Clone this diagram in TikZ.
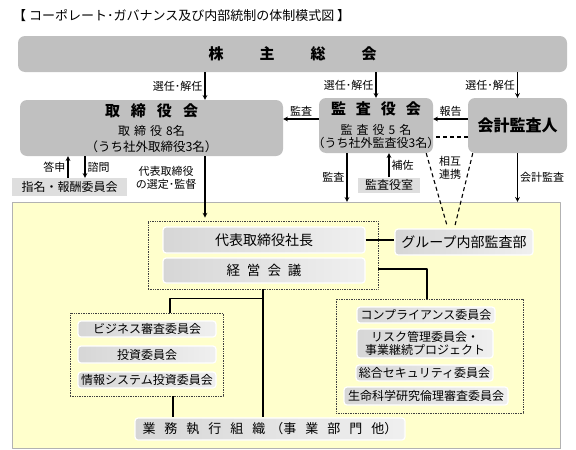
\documentclass[tikz,border=0pt]{standalone}
\usepackage{fontspec}
\setmainfont{Noto Sans CJK JP}
\usetikzlibrary{shadows}
\definecolor{boxgray}{RGB}{192,192,192}
\definecolor{paleGray}{RGB}{222,222,222}
\definecolor{areaYellow}{RGB}{255,255,204}
\tikzset{
  bigbox/.style={fill=boxgray, rounded corners=7pt, inner sep=0pt, align=center},
  smallbox/.style={fill=paleGray, inner sep=0pt, font=\fontsize{12}{14}\selectfont},
  innerbox/.style={draw=white, line width=1.2pt, rounded corners=3pt, left color=gray!32, right color=gray!12,
    inner sep=0pt, align=center, font=\fontsize{12}{14}\selectfont},
  dotbox/.style={draw=black!75, line width=0.8pt, dash pattern=on 0.7pt off 1pt, inner sep=0pt},
  lbl/.style={font=\fontsize{11}{13}\selectfont, inner sep=2pt, align=center},
  conn/.style={line width=1.1pt},
}
\begin{document}
\begin{tikzpicture}[x=1pt, y=-1pt, >=stealth, line join=round]
  \useasboundingbox (0,0) rectangle (576,450);
  % title
  \node[anchor=west, inner sep=0pt, font=\fontsize{13}{15}\selectfont] (title) at (13,16)
    {【 コーポレート･ガバナンス及び内部統制の体制模式図 】};
  % upper part
  \node[bigbox, minimum width=549pt, minimum height=36pt, font=\fontsize{15}{17}\bfseries] (kabunushi) at (292.5,54)
    {株\hspace{36pt}主\hspace{36pt}総\hspace{36pt}会};
  \node[bigbox, minimum width=263pt, minimum height=56pt, font=\fontsize{12.5}{15}\selectfont] (torishimari) at (151.5,128)
    {{\fontsize{15}{17}\bfseries 取\hspace{11pt}締\hspace{11pt}役\hspace{11pt}会}\\[4.5pt]
     {\fontsize{12}{15}\selectfont 取\hspace{4pt}締\hspace{4pt}役\hspace{4pt}8名}\\[1pt]
     （うち社外取締役3名）};
  \node[bigbox, minimum width=114pt, minimum height=55pt, font=\fontsize{12}{13}\selectfont] (kansayaku) at (376,125.5)
    {{\fontsize{15}{17}\bfseries 監\hspace{10pt}査\hspace{10pt}役\hspace{10pt}会}\\[7pt]
     監\hspace{4pt}査\hspace{4pt}役\hspace{4pt}5\hspace{4pt}名\\
     \makebox[110pt]{（うち社外監査役3名）}};
  \node[bigbox, minimum width=99pt, minimum height=55pt, font=\fontsize{16}{18}\bfseries] (kaikei) at (517.5,125.5)
    {会計監査人};
  \node[smallbox, minimum width=115pt, minimum height=18pt] (shimei) at (69.5,187) {指名・報酬委員会};
  \node[smallbox, minimum width=62pt, minimum height=15pt] (kansashitsu) at (389,185) {監査役室};
  % yellow area
  \node[fill=areaYellow, draw=gray!60, drop shadow={shadow xshift=1.2pt, shadow yshift=-1.2pt, fill=gray!70, opacity=1},
    minimum width=548pt, minimum height=246pt, inner sep=0pt] (area) at (286,325) {};
  \node[dotbox, minimum width=230pt, minimum height=68pt] (topgrp) at (263,255) {};
  \node[dotbox, minimum width=187pt, minimum height=114pt] (rightgrp) at (429.5,356) {};
  \node[dotbox, minimum width=153pt, minimum height=83pt] (leftgrp) at (146.5,354.5) {};
  \node[innerbox, minimum width=202pt, minimum height=26pt, font=\fontsize{14}{16}\selectfont] (shacho) at (264,240) {代表取締役社長};
  \node[innerbox, minimum width=202pt, minimum height=25pt, font=\fontsize{13.5}{15}\selectfont] (keiei) at (264,270.5)
    {経\hspace{7pt}営\hspace{7pt}会\hspace{7pt}議};
  \node[innerbox, minimum width=138pt, minimum height=26pt, font=\fontsize{14}{16}\selectfont] (group) at (464,242) {グループ内部監査部};
  \node[innerbox, minimum width=138pt, minimum height=16pt] (compl) at (426,315) {コンプライアンス委員会};
  \node[innerbox, minimum width=136pt, minimum height=29pt, font=\fontsize{12}{13}\selectfont] (risk) at (425,343.5)
    {リスク管理委員会・\\事業継続プロジェクト};
  \node[innerbox, minimum width=137pt, minimum height=16pt] (security) at (424.5,373) {総合セキュリティ委員会};
  \node[innerbox, minimum width=164pt, minimum height=18pt] (seimei) at (426,396) {生命科学研究倫理審査委員会};
  \node[innerbox, minimum width=138pt, minimum height=16pt] (biz) at (147,329) {ビジネス審査委員会};
  \node[innerbox, minimum width=138pt, minimum height=17pt] (toushi) at (147,354.5) {投資委員会};
  \node[innerbox, minimum width=138pt, minimum height=16pt] (joho) at (147,380) {情報システム投資委員会};
  \node[innerbox, minimum width=270pt, minimum height=22pt, font=\fontsize{13}{15}\selectfont] (gyomu) at (270,429)
    {業\hspace{9pt}務\hspace{9pt}執\hspace{9pt}行\hspace{9pt}組\hspace{9pt}織\hspace{5pt}（事\hspace{9pt}業\hspace{9pt}部\hspace{9pt}門\hspace{9pt}他）};
  % connectors, upper part
  \draw[conn,->] ([xshift=53.5pt]torishimari.north |- kabunushi.south) -- ([xshift=53.5pt]torishimari.north)
    node[lbl, midway, left] {選任･解任};
  \draw[conn,->] (kansayaku.north |- kabunushi.south) -- (kansayaku.north) node[lbl, midway, left] {選任･解任};
  \draw[conn,->] (kaikei.north |- kabunushi.south) -- (kaikei.north) node[lbl, midway, left] {選任･解任};
  \draw[conn,->] ([yshift=6.5pt]kansayaku.west) -- ([yshift=6.5pt]kansayaku.west -| torishimari.east)
    node[lbl, midway, above] {監査};
  \draw[conn,->] ([yshift=6.5pt]kaikei.west) -- ([yshift=6.5pt]kaikei.west -| kansayaku.east)
    node[lbl, midway, above] {報告};
  \draw[conn, dash pattern=on 4pt off 3pt] ([yshift=-11.5pt]kaikei.west) -- ([yshift=-11.5pt]kaikei.west -| kansayaku.east);
  \draw[conn, dash pattern=on 4pt off 3pt] ([xshift=-7pt]kansayaku.south east) -- ([xshift=-17pt,yshift=3pt]group.north);
  \draw[conn, dash pattern=on 4pt off 3pt] ([xshift=5pt]kaikei.south west) -- ([xshift=-9pt,yshift=3pt]group.north);
  \node[lbl] (renkei) at (450,168) {相互\\連携};
  \draw[conn,->] ([xshift=-29pt]kansayaku.south) -- ([xshift=-29pt]kansayaku.south |- area.north)
    node[lbl, midway, left] {監査};
  \draw[conn,->] (kansashitsu.north) -- (kansashitsu.north |- kansayaku.south) node[lbl, midway, right] {補佐};
  \draw[conn,->] (kaikei.south) -- (kaikei.south |- area.north) node[lbl, midway, right] {会計監査};
  \draw[conn,->] ([xshift=53.5pt]torishimari.south) -- ([xshift=53.5pt,yshift=3pt]torishimari.south |- topgrp.north)
    node[lbl, pos=0.36, left, xshift=-6pt] {代表取締役\\の選定･監督};
  \draw[conn,->] ([xshift=-1.5pt]shimei.north) -- ([xshift=-1.5pt]shimei.north |- torishimari.south)
    node[lbl, midway, left] {答申};
  \draw[conn,->] ([xshift=15.5pt]shimei.north |- torishimari.south) -- ([xshift=15.5pt]shimei.north)
    node[lbl, midway, right] {諮問};
  % connectors, yellow area
  \draw[conn] (shacho.east) -- (shacho.east -| group.west);
  \draw[conn] ([yshift=1.5pt]keiei.east -| topgrp.east) -| ([xshift=-2.5pt]rightgrp.north);
  \draw[conn] (topgrp.south) -- (topgrp.south |- gyomu.north);
  \coordinate (split) at ([yshift=-9pt]topgrp.south);
  \draw[conn] (split) -| ([xshift=23.5pt]leftgrp.north);
  \draw[conn] ([xshift=26.5pt]leftgrp.south) -- ([xshift=26.5pt]leftgrp.south |- gyomu.north);
\end{tikzpicture}
\end{document}
